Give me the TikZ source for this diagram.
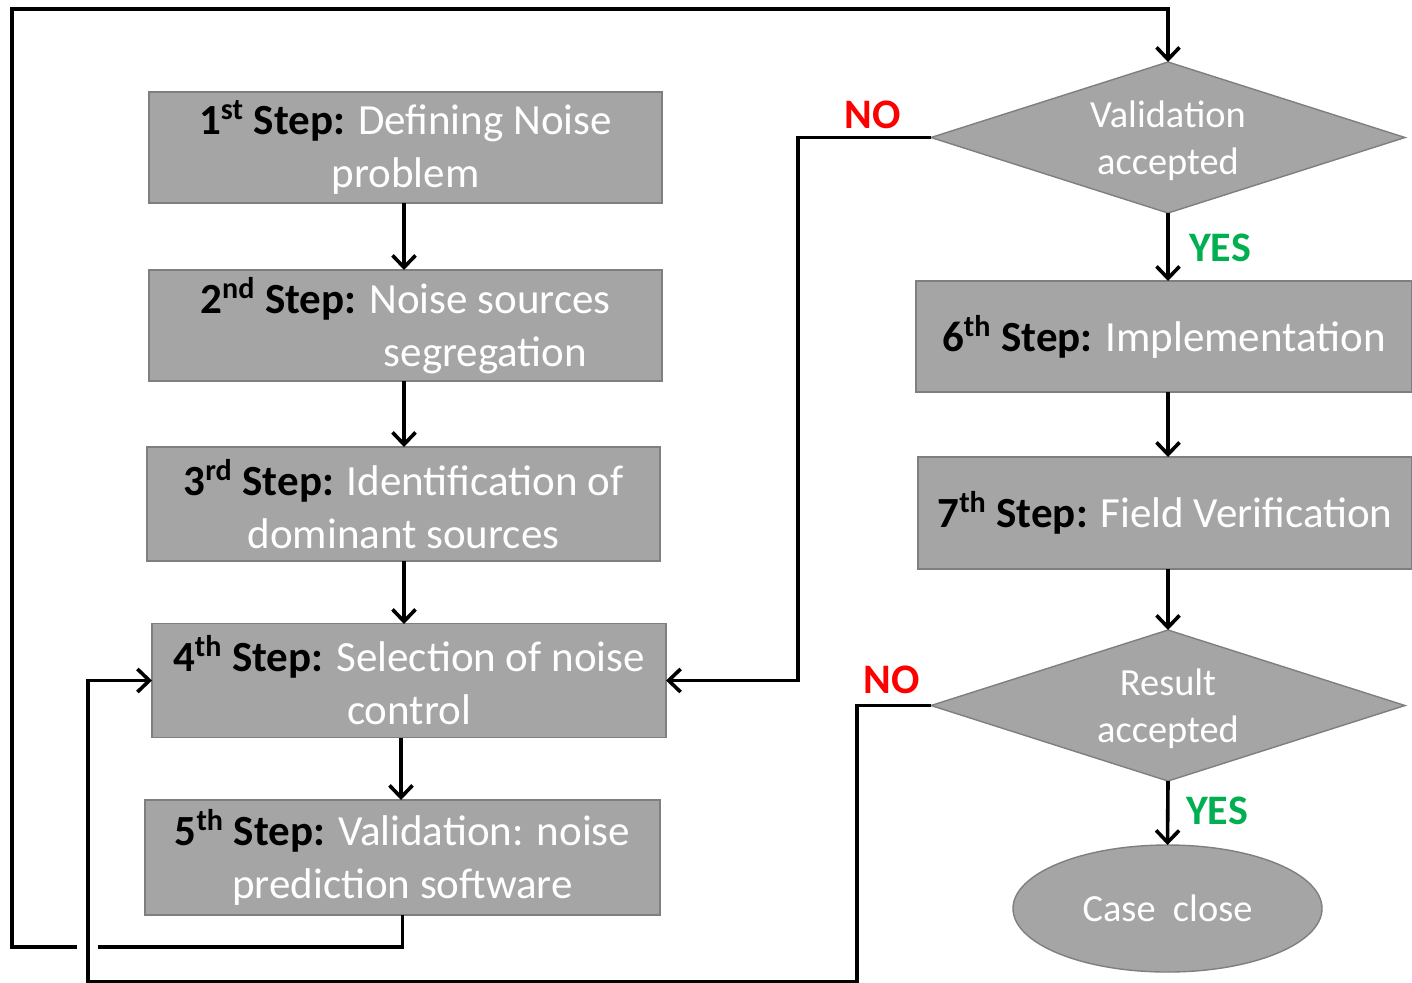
\documentclass[tikz,border=0pt]{standalone}
\usepackage{fontspec}
\setmainfont{Carlito}
\usetikzlibrary{shapes.geometric,arrows.meta}
\definecolor{boxfill}{HTML}{A5A5A5}
\definecolor{boxline}{HTML}{7F7F7F}
\definecolor{noRed}{HTML}{FF0000}
\definecolor{yesGreen}{HTML}{00B050}
\newcommand\StepLbl[2]{\textbf{\textcolor{black}{#1\textsuperscript{#2} Step:}}}
\begin{document}
\begin{tikzpicture}[x=0.5pt,y=-0.5pt,
  stepbox/.style={draw=boxline, line width=0.7pt, fill=boxfill, text=white,
    inner sep=0pt, outer sep=0pt, align=center,
    font=\fontsize{21.5}{26.5}\selectfont},
  decision/.style={diamond, aspect=3.14, draw=boxline, line width=0.7pt, fill=boxfill, text=white,
    inner sep=0pt, outer sep=0pt, align=center, minimum width=237pt, minimum height=75.5pt,
    font=\fontsize{19.2}{23.5}\selectfont},
  endnode/.style={ellipse, draw=boxline, line width=0.7pt, fill=boxfill, text=white,
    inner sep=0pt, outer sep=0pt, minimum width=154.5pt, minimum height=63.5pt,
    font=\fontsize{19.2}{23.5}\selectfont},
  link/.style={line width=1.8pt},
  flow/.style={line width=1.8pt, -{Straight Barb[length=6pt,width=11.5pt,line width=1.8pt]}},
  nolbl/.style={text=noRed, font=\bfseries\fontsize{21}{24}\selectfont},
  yeslbl/.style={text=yesGreen, font=\bfseries\fontsize{21}{24}\selectfont}]
\useasboundingbox[fill=white] (0,0) rectangle (1412,982);

% left column
\node[stepbox, minimum width=256.5pt, minimum height=55.5pt] (s1) at (405.5,147.5)
  {\StepLbl{1}{st} Defining Noise\\problem};
\node[stepbox, minimum width=256.5pt, minimum height=55.5pt] (s2) at (405.5,325.5)
  {\StepLbl{2}{nd} Noise sources\\\hspace*{80pt}segregation};
\node[stepbox, minimum width=256.5pt, minimum height=57pt] (s3) at (403.5,504)
  {\StepLbl{3}{rd} Identification of\\dominant sources};
\node[stepbox, minimum width=257pt, minimum height=57pt] (s4) at (409,680.5)
  {\StepLbl{4}{th} Selection of noise\\control};
\node[stepbox, minimum width=257.5pt, minimum height=57.5pt] (s5) at (402.5,857.5)
  {\StepLbl{5}{th} Validation: noise\\prediction software};

% right column
\node[decision] (d1) at (1168,137.5) {};
\node[text=white, align=center, font=\fontsize{19.2}{23.5}\selectfont] (t1) at (1168,141) {Validation\\accepted};
\node[stepbox, minimum width=248pt, minimum height=55.5pt] (s6) at (1164,336.5)
  {\StepLbl{6}{th} Implementation};
\node[stepbox, minimum width=247pt, minimum height=56pt] (s7) at (1165,513)
  {\StepLbl{7}{th} Field Verification};
\node[decision] (d2) at (1168,705.5) {};
\node[text=white, align=center, font=\fontsize{19.2}{23.5}\selectfont] (t2) at (1168,709) {Result\\accepted};
\node[endnode] (cc) at (1167.5,908.5) {Case\ \ close};

% labels
\node[nolbl] (no1) at (873,115) {NO};
\node[nolbl] (no2) at (892,680) {NO};
\node[yeslbl] (yes1) at (1220,248) {YES};
\node[yeslbl] (yes2) at (1217,811) {YES};

% left column arrows
\draw[flow] (404,203) -- (404,270);
\draw[flow] (404,381) -- (404,447);
\draw[flow] (404,561) -- (404,624);
\draw[flow] (401,738) -- (401,800);

% right column arrows
\draw[flow] (d1.south) -- (d1.south |- s6.north);
\draw[flow] (s6.south -| d1.south) -- (s7.north -| d1.south);
\draw[flow] (s7.south -| d1.south) -- (d2.north);
\draw[flow] (d2.south) -- (cc.north);

% loop from step 5 back to validation
\coordinate (hopR) at (98,947);
\coordinate (hopL) at (77,947);
\coordinate (topL) at (12,9);
\draw[link] (s5.south) |- (hopR);
\draw[flow] (hopL) -| (topL) -| (d1.north);

% NO from validation back to step 4
\coordinate (c1) at (798,680.5);
\draw[flow] (d1.west) -| (c1) -- (s4.east);

% NO from result back to step 4
\coordinate (c2) at (857,982);
\coordinate (c3) at (88,680.5);
\draw[flow] (d2.west) -| (c2) -| (c3) -- (s4.west);
\end{tikzpicture}
\end{document}
